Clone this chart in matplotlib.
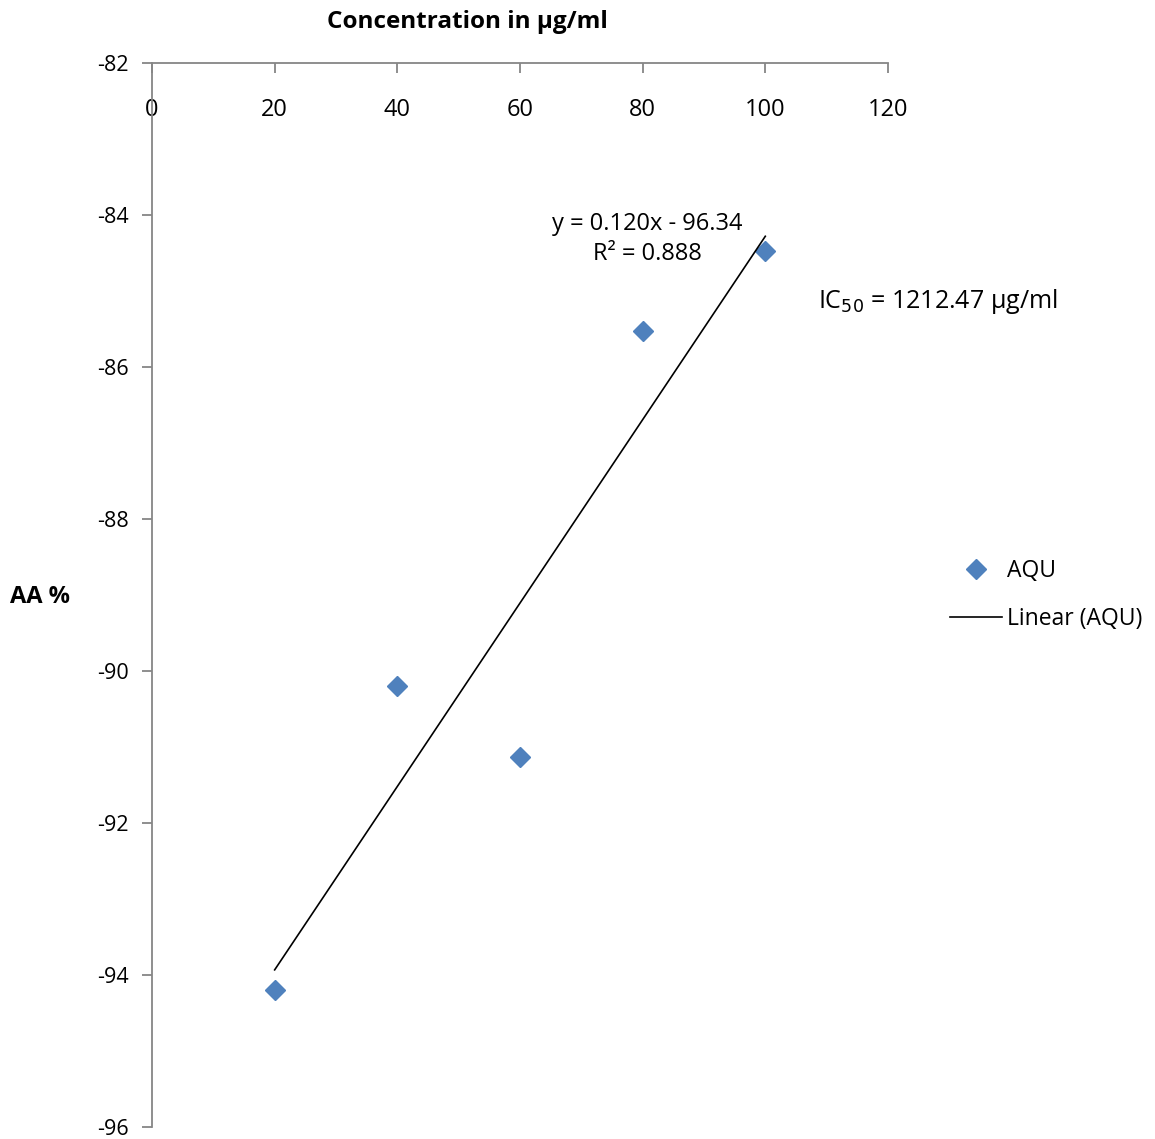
import numpy as np
import matplotlib.pyplot as plt

conc = [20, 40, 60, 80, 100]
aa = [-94.2, -90.2, -91.13, -85.53, -84.47]
xticks = [0, 20, 40, 60, 80, 100, 120]
yticks = [-82, -84, -86, -88, -90, -92, -94, -96]

plt.rcParams['font.family'] = ['Open Sans', 'DejaVu Sans']
plt.rcParams['axes.unicode_minus'] = False
grey = '#868686'

fig = plt.figure(figsize=(11.55, 11.39), dpi=100)
ax = fig.add_axes([0.1316, 0.0105, 0.6372, 0.9342])

ax.plot(conc, aa, linestyle='none', marker='D', markersize=10,
        color='#4F81BD', label='AQU')
slope, icpt = np.polyfit(conc, aa, 1)
xf = np.array([conc[0], conc[-1]])
ax.plot(xf, slope * xf + icpt, color='black', lw=1.2, label='Linear (AQU)')

ax.set_xlim(0, 120)
ax.set_ylim(-96, -82)
ax.set_xticks(xticks)
ax.set_yticks(yticks)

for s in ['right', 'bottom']:
    ax.spines[s].set_visible(False)
for s in ['left', 'top']:
    ax.spines[s].set_color(grey)
    ax.spines[s].set_linewidth(1.3)

ax.xaxis.set_ticks_position('top')
ax.tick_params(axis='x', direction='in', length=7, color=grey, width=1.3,
               labeltop=True, labelbottom=False, labelsize=17, pad=-25)
ax.tick_params(axis='y', direction='out', length=7, color=grey, width=1.3,
               labelsize=15.5, pad=10)
for lab in ax.get_xticklabels():
    lab.set_verticalalignment('top')

fig.text(467 / 1155, 1 - 22 / 1139, 'Concentration in μg/ml', ha='center',
         va='center', fontsize=17.5, fontweight='bold')
fig.text(40 / 1155, 1 - 597 / 1139, 'AA %', ha='center', va='center',
         fontsize=17, fontweight='bold')

fig.text(647 / 1155, 1 - 239 / 1139, 'y = 0.120x - 96.34\nR² = 0.888',
         ha='center', va='center', fontsize=17, linespacing=1.35)
fig.text(818 / 1155, 1 - 302 / 1139, 'IC$_{50}$ = 1212.47 μg/ml',
         ha='left', va='center', fontsize=18)

ax.legend(loc='center left', bbox_to_anchor=(1.084, 0.5), frameon=False,
          fontsize=16.5, handlelength=2.3, labelspacing=1.05,
          handletextpad=0.2, borderpad=0, borderaxespad=0)

fig.savefig('out.png', dpi=100)
